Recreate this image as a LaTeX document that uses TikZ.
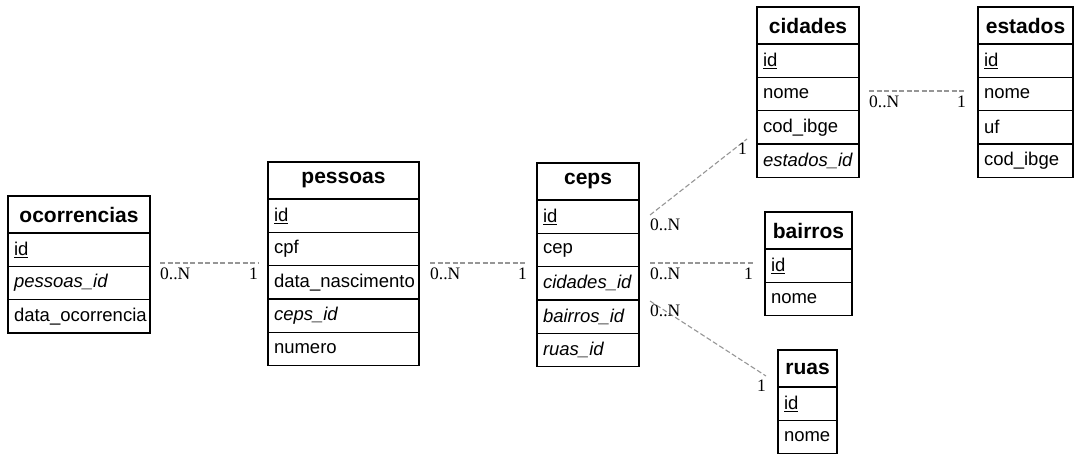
\documentclass[tikz,border=0pt]{standalone}
\usepackage{fontspec}
\setmainfont{Liberation Serif}
\setsansfont{Liberation Sans}
\usetikzlibrary{positioning}

\definecolor{relgray}{RGB}{150,150,150}

\tikzset{
  tablehead/.style={draw=black, line width=1.3pt, fill=white, anchor=north west,
    minimum height=37pt, inner sep=0pt, outer sep=0pt,
    font=\fontsize{21}{25}\selectfont\sffamily\bfseries},
  tablerow/.style={draw=black, line width=1.3pt, fill=white, minimum height=33.3pt,
    inner xsep=6pt, inner ysep=0pt, outer sep=0pt, align=left,
    font=\fontsize{18.5}{22}\selectfont\sffamily},
  relation/.style={draw=relgray, line width=1.1pt, dash pattern=on 5pt off 2.5pt},
  card/.style={font=\fontsize{17.5}{18}\selectfont, inner sep=0pt}
}

% table: name, x, y (top), width, fields
\newcommand{\entity}[5]{%
  \pgfmathsetmacro\rowtw{#4-12}
  \node[tablehead, minimum width=#4pt] (#1-0) at (#2,#3) {#1};
  \foreach \field [count=\i, evaluate=\i as \j using int(\i-1)] in {#5}
    \node[tablerow, text width=\rowtw pt, below=0pt of #1-\j] (#1-\i) {\field};
}

\begin{document}
\begin{tikzpicture}[x=1pt, y=-1pt]
    \useasboundingbox (0,0) rectangle (1081,464);

    % tables
    \entity{ocorrencias}{8}{196}{142}{\underline{id}, \textit{pessoas\_id}, data\_ocorrencia}
    \entity{pessoas}{268}{162}{151}{\underline{id}, cpf, data\_nascimento, \textit{ceps\_id}, numero}
    \entity{ceps}{537}{163}{102}{\underline{id}, cep, \textit{cidades\_id}, \textit{bairros\_id}, \textit{ruas\_id}}
    \entity{cidades}{757}{7}{102}{\underline{id}, nome, cod\_ibge, \textit{estados\_id}}
    \entity{estados}{978}{7}{95}{\underline{id}, nome, uf, cod\_ibge}
    \entity{bairros}{765}{212}{87}{\underline{id}, nome}
    \entity{ruas}{778}{350}{59}{\underline{id}, nome}


    % relation ends
    \coordinate (oc-pe-a) at (160,263);
    \coordinate (oc-pe-b) at (258,263);
    \coordinate (pe-ce-a) at (430,263);
    \coordinate (pe-ce-b) at (527,263);
    \coordinate (ce-ci-a) at (650,215);
    \coordinate (ce-ci-b) at (747,139);
    \coordinate (ce-ba-a) at (650,263);
    \coordinate (ce-ba-b) at (753,263);
    \coordinate (ce-ru-a) at (650,301);
    \coordinate (ce-ru-b) at (766,376);
    \coordinate (ci-es-a) at (869,91);
    \coordinate (ci-es-b) at (966,91);


    % relations with cardinalities
    \foreach \rel/\gap in {oc-pe/5, pe-ce/5, ce-ci/4, ce-ba/5, ce-ru/4, ci-es/5} {
        \draw[relation] (\rel-a) -- (\rel-b);
        \node[card, anchor=north west] (\rel-many) at ([yshift=-\gap pt]\rel-a) {0..N};
        \node[card, anchor=north east] (\rel-one) at ([yshift=-\gap pt]\rel-b) {1};
    }
\end{tikzpicture}
\end{document}
